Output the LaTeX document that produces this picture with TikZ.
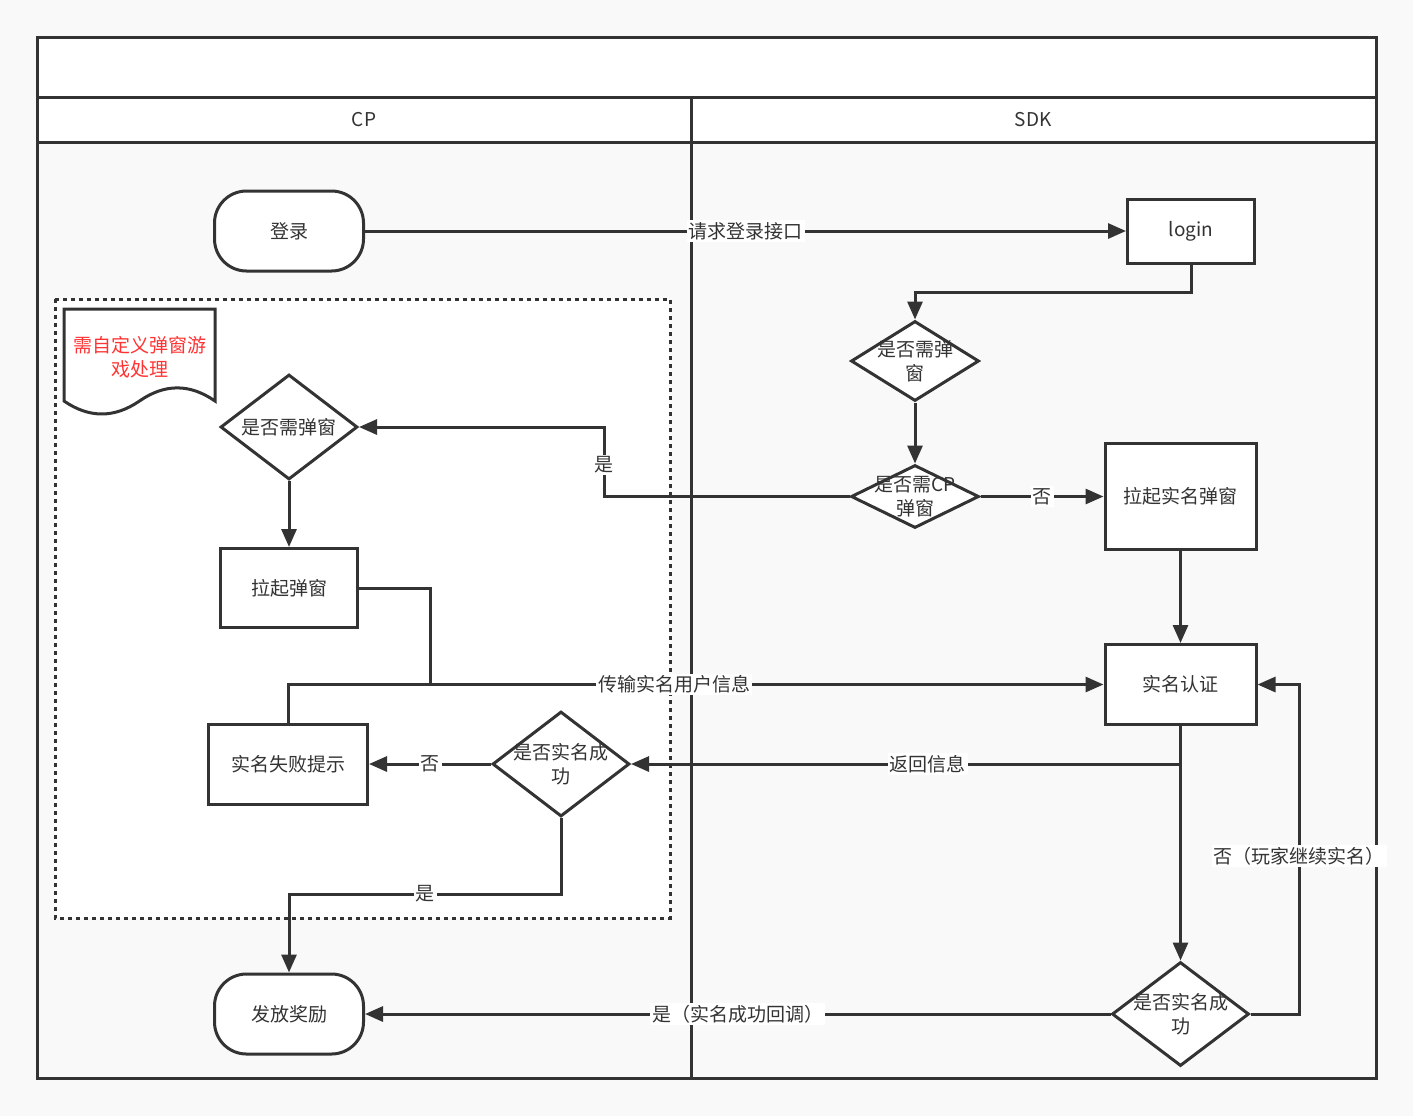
\documentclass[tikz,border=0pt]{standalone}
\usepackage{fontspec}
\setmainfont{Noto Sans CJK SC}
\usetikzlibrary{shapes.geometric, positioning, arrows.meta}

\definecolor{ink}{HTML}{333333}
\definecolor{paper}{HTML}{F9F9F9}
\definecolor{notered}{HTML}{FF3333}

\tikzset{
    box/.style={rectangle, draw, fill=white, inner sep=0pt},
    term/.style={box, rounded corners=16pt},
    decision/.style={diamond, draw, fill=white, inner sep=0pt},
    lbl/.style={fill=white, inner sep=1pt},
}

\begin{document}
\begin{tikzpicture}[x=0.5pt, y=-0.5pt, color=ink, line width=1.5pt,
        >={Triangle[length=9pt, width=7.5pt]}, font=\fontsize{9.5}{12}\selectfont]
        \fill[paper] (0,0) rectangle (1413,1116);
        \useasboundingbox (0,0) rectangle (1413,1116);

        % pool and lanes
        \draw[fill=white] (37,37) rectangle (1376,97);
        \draw[fill=white] (37,97) rectangle (1376,142);
        \draw (37,142) rectangle (1376,1078);
        \draw (691,97) -- (691,1078);
        \node (cp) at (364,120) {CP};
        \node (sdk) at (1033,120) {SDK};

        % group + note
        \draw[fill=white, dash pattern=on 2pt off 2pt] (55,299) rectangle (670,918);
        \draw[fill=white] (64,309) -- (215,309) -- (215,401)
            .. controls (189.8,383.5) and (164.7,383.5) .. (139.5,401)
            .. controls (114.3,418.3) and (89.2,418.3) .. (64,401) -- cycle;
        \node[text=notered, align=center] (q0) at (139.5,357) {需自定义弹窗游\\戏处理};

        \node[term, minimum width=74.5pt, minimum height=40pt] (q1) at (289,231) {登录};
        \node[box, minimum width=63.5pt, minimum height=32pt] (q2) at (1191,231) {login};
        \node[decision, minimum width=64pt, minimum height=40pt,
            label={[align=center]center:是否需弹\\窗}] (q3) at (915,361) {};
        \node[decision, minimum width=64pt, minimum height=31.5pt, below = 30.5pt of q3,
            label={[align=center]center:是否需CP\\弹窗}] (q4) {};
        \node[box, minimum width=75.5pt, minimum height=53pt, right = 61.5pt of q4](q5){拉起实名弹窗};
        \node[box, minimum width=75.5pt, minimum height=40pt, below = 46pt of q5](q8){实名认证};

        \node[decision, minimum width=68.5pt, minimum height=52.5pt,
            label=center:是否需弹窗] (q6) at (289,427) {};
        \node[box, minimum width=68.5pt, minimum height=39.5pt, below = 33pt of q6](q7){拉起弹窗};
        \node[decision, minimum width=68.5pt, minimum height=52.5pt,
            label={[align=center]center:是否实名成\\功}] (q9) at (561,764) {};
        \node[box, minimum width=79.5pt, minimum height=40pt, left = 61pt of q9](q10){实名失败提示};

        \node[term, minimum width=74.5pt, minimum height=40pt] (q11) at (289,1014) {发放奖励};
        \node[decision, minimum width=68.5pt, minimum height=52pt,
            label={[align=center]center:是否实名成\\功}] (q12) at (q8 |- q11) {};

        \coordinate (b1) at (604,465);
        \coordinate (b2) at (q7.east -| 430,0);
        \coordinate (b3) at (q8.south |- q9.east);
        \coordinate (b4) at (289,894);
        \coordinate (b5) at (1299,0);

        \draw(q1) edge[->] node[lbl]{请求登录接口} (q2);
        \draw[->] (q2.south) -- ++(0,28) -| (q3.north);
        \draw(q3) edge[->] (q4);
        \draw(q4) edge[->] node[lbl]{否} (q5);
        \draw[->] (q4.west) -| (b1) node[lbl]{是} |- (q6.east);
        \draw(q6) edge[->] (q7);
        \draw[->] (q7.east) -| (b2 |- q8.west) -- node[lbl, pos=0.363]{传输实名用户信息} (q8.west);
        \draw (q10.north) |- (b2 |- q8.west);
        \draw(q5) edge[->] (q8);
        \draw(q8) edge[->] (q12);
        \draw[->] (b3) -- node[lbl, pos=0.46]{返回信息} (q9.east);
        \draw(q9) edge[->] node[lbl]{否} (q10);
        \draw[->] (q9.south) |- node[lbl, pos=0.75]{是} (b4) -- (q11.north);
        \draw(q12) edge[->] node[lbl]{是（实名成功回调）} (q11);
        \draw[->] (q12.east) -| node[lbl, pos=0.74]{否（玩家继续实名）} (b5 |- q8.east) -- (q8.east);

    \end{tikzpicture}
\end{document}
